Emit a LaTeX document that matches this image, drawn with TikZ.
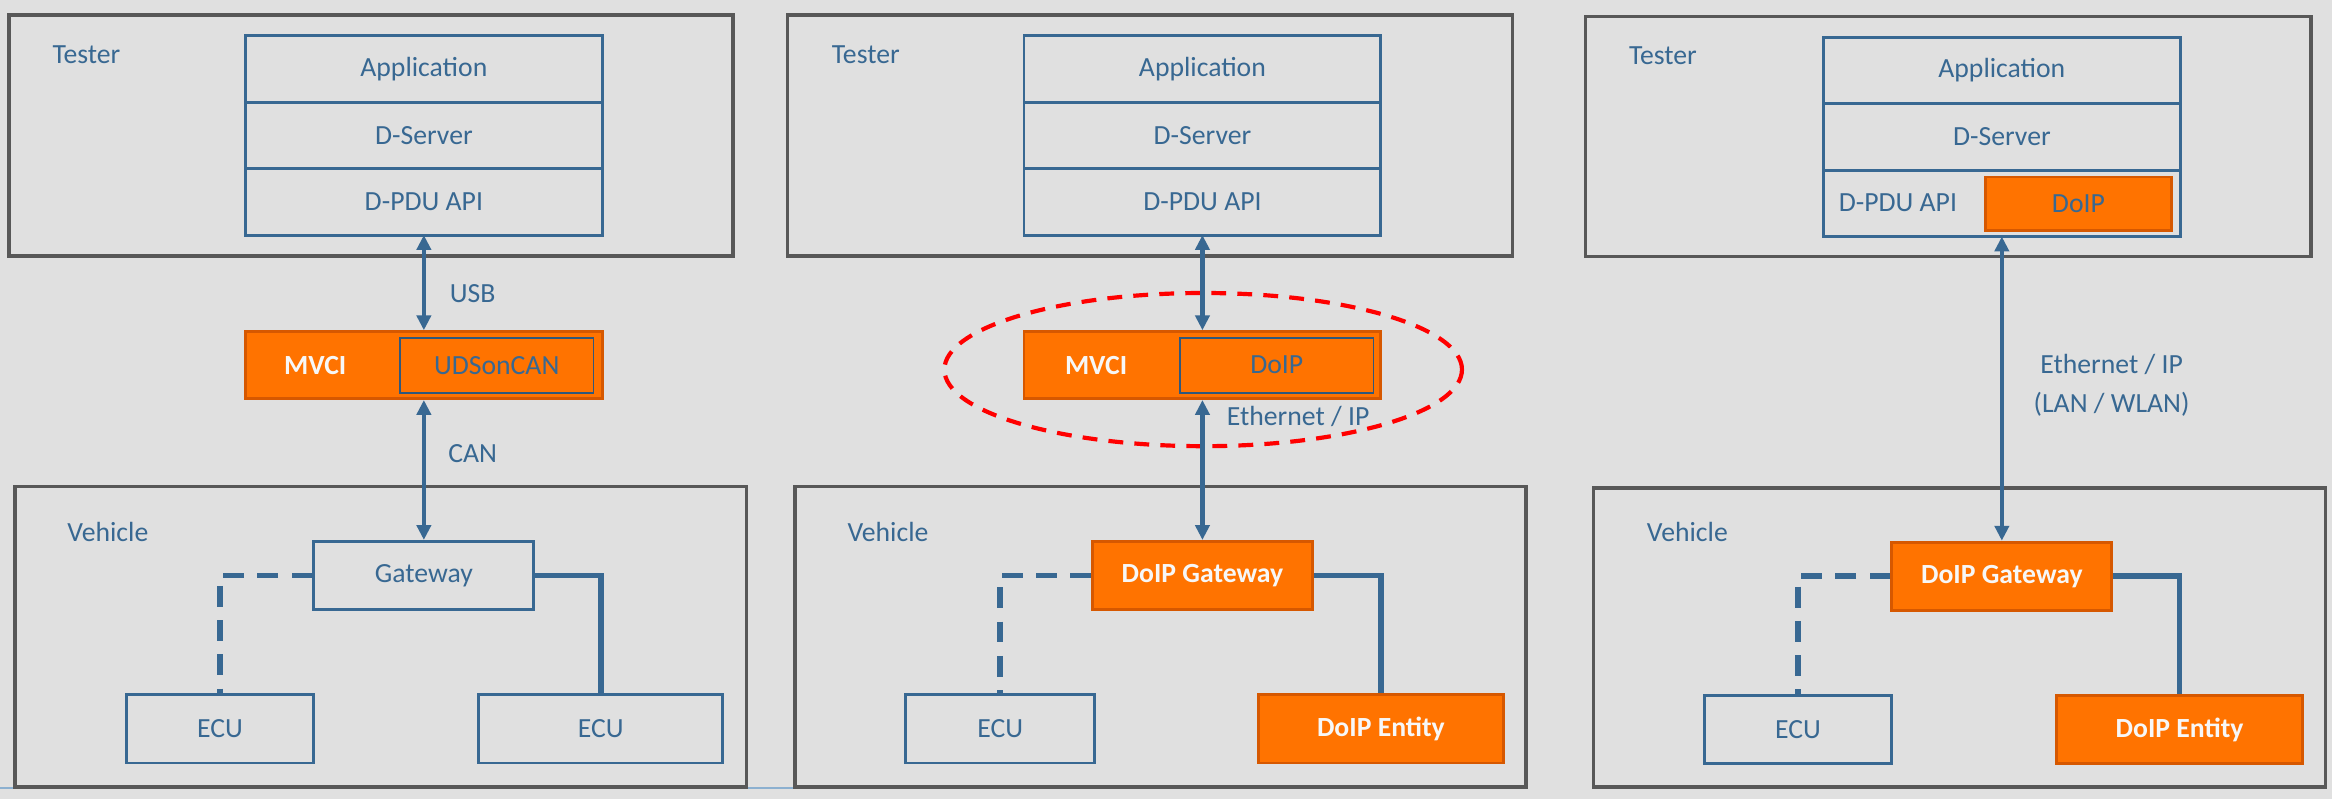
\documentclass[tikz,border=0pt]{standalone}
\usepackage{fontspec}
\setmainfont{Carlito}
\usepackage{tikz}
\usetikzlibrary{arrows.meta,positioning}
\definecolor{tblue}{RGB}{56,104,146}
\definecolor{framegray}{RGB}{88,88,88}
\definecolor{bggray}{RGB}{224,224,224}
\definecolor{dorange}{RGB}{255,115,0}
\definecolor{dorangeline}{RGB}{214,88,0}
\definecolor{slideline}{RGB}{140,176,208}

\begin{document}
\begin{tikzpicture}[x=0.2mm,y=-0.2mm,
  font=\fontsize{10.6}{12.7}\selectfont,
  frame/.style={draw=framegray,line width=1.4pt},
  layer/.style={draw=tblue,line width=1.1pt,text=tblue,minimum width=48mm,minimum height=8.94mm,outer sep=0pt,inner sep=0pt},
  blk/.style={draw=tblue,line width=1.1pt,text=tblue,minimum height=9.2mm,inner sep=0pt},
  oblk/.style={fill=dorange,draw=dorangeline,line width=1.1pt,text=white!94!gray,font=\fontsize{10.6}{12.7}\selectfont\bfseries,minimum height=9.2mm,inner sep=0pt},
  mvcibox/.style={oblk,minimum width=48mm,minimum height=9mm},
  mvcitext/.style={text=white!94!gray,font=\fontsize{10.6}{12.7}\selectfont\bfseries,inner sep=0pt},
  proto/.style={draw=tblue!85!black,line width=0.7pt,text=tblue,minimum width=26mm,minimum height=7.4mm,inner sep=0pt},
  tag/.style={text=tblue,inner sep=0pt,anchor=west},
  link/.style={draw=tblue,line width=1.6pt,{Triangle[width=1.9mm,length=2mm]}-{Triangle[width=1.9mm,length=2mm]}},
  wire/.style={draw=tblue,line width=2.2pt},
  wlwire/.style={wire,dash pattern=on 2.8mm off 1.8mm},
  ring/.style={draw=red,line width=1.6pt,dash pattern=on 2mm off 1.5mm}]
\useasboundingbox (0,0) rectangle (1568,537);
\fill[bggray] (0,0) rectangle (1568,537);
\draw[slideline,line width=0.6pt] (0,530) -- (588,530);

% CAN
\draw[frame] (6,10) rectangle (493,172);
\node[tag] (tst1) at (35,37) {Tester};
\node[layer] (app1) at (285,46.3) {Application};
\node[layer,below=0pt of app1] (dsrv1) {D-Server};
\node[layer,below=0pt of dsrv1] (dpdu1) {D-PDU API};
\node[mvcibox] (mvci1) at (285,245.5) {};
\node[mvcitext] (mvn1) at (212,245.5) {MVCI};
\node[proto] (uds1) at (334,245.5) {UDSonCAN};
\draw[frame] (10,327) rectangle (502,529);
\node[tag] (veh1) at (45,358) {Vehicle};
\node[blk,minimum width=29.6mm] (gw1) at (285,387) {Gateway};
\node[blk,minimum width=25.2mm] (ecuA1) at (148,490) {ECU};
\node[blk,minimum width=32.8mm] (ecuB1) at (404,490) {ECU};
\draw[link] (dpdu1.south) -- node[tag,right=3.2mm,pos=0.62] (usb1) {USB} (mvci1.north);
\draw[link] (mvci1.south) -- node[tag,right=3mm,pos=0.385] (can1) {CAN} (gw1.north);
\draw[wlwire] (gw1.west) -| (ecuA1.north);
\draw[wire] (gw1.east) -| (ecuB1.north);

% DoIP via MVCI
\draw[frame] (529.5,10) rectangle (1017,172);
\node[tag] (tst2) at (559,37) {Tester};
\node[layer] (app2) at (808.5,46.3) {Application};
\node[layer,below=0pt of app2] (dsrv2) {D-Server};
\node[layer,below=0pt of dsrv2] (dpdu2) {D-PDU API};
\node[mvcibox] (mvci2) at (808.5,245.5) {};
\node[mvcitext] (mvn2) at (737,245.5) {MVCI};
\node[proto] (doip2) at (858.5,245.5) {DoIP};
\draw[ring] (809,248.5) ellipse [x radius=34.8mm, y radius=10.3mm];
\draw[frame] (534.5,327) rectangle (1026,529);
\node[tag] (veh2) at (569.5,358) {Vehicle};
\node[oblk,minimum width=29.6mm] (gw2) at (808.5,387) {DoIP Gateway};
\node[blk,minimum width=25.4mm] (ecu2) at (672.5,490) {ECU};
\node[oblk,minimum width=33mm] (ent2) at (928.5,490) {DoIP Entity};
\draw[link] (dpdu2.south) -- (mvci2.north);
\draw[link] (mvci2.south) -- node[tag,right=3mm,pos=0.115] (eth2) {Ethernet / IP} (gw2.north);
\draw[wlwire] (gw2.west) -| (ecu2.north);
\draw[wire] (gw2.east) -| (ent2.north);

% DoIP direct
\draw[frame] (1066,11) rectangle (1554,172.5);
\node[tag] (tst3) at (1095,37.7) {Tester};
\node[layer] (app3) at (1346,47.3) {Application};
\node[layer,below=0pt of app3] (dsrv3) {D-Server};
\node[layer,below=0pt of dsrv3] (dpdu3) {};
\node[tag] (dpt3) at (1236,136) {D-PDU API};
\node[oblk,text=tblue,font=\fontsize{10.6}{12.7}\selectfont,minimum width=25mm,minimum height=7.2mm] (doip3) at (1397.5,137) {DoIP};
\draw[frame] (1071.5,328) rectangle (1563.5,529);
\node[tag] (veh3) at (1107,358) {Vehicle};
\node[oblk,minimum width=29.6mm] (gw3) at (1346,387.5) {DoIP Gateway};
\node[blk,minimum width=25.2mm] (ecu3) at (1209,490.5) {ECU};
\node[oblk,minimum width=33mm] (ent3) at (1465.5,490.5) {DoIP Entity};
\draw[link] (dpdu3.south) -- node[tag,right=4mm,pos=0.49,align=center,font=\fontsize{10.6}{15}\selectfont] (eth3) {Ethernet / IP\\(LAN / WLAN)} (gw3.north);
\draw[wlwire] (gw3.west) -| (ecu3.north);
\draw[wire] (gw3.east) -| (ent3.north);
\end{tikzpicture}
\end{document}
